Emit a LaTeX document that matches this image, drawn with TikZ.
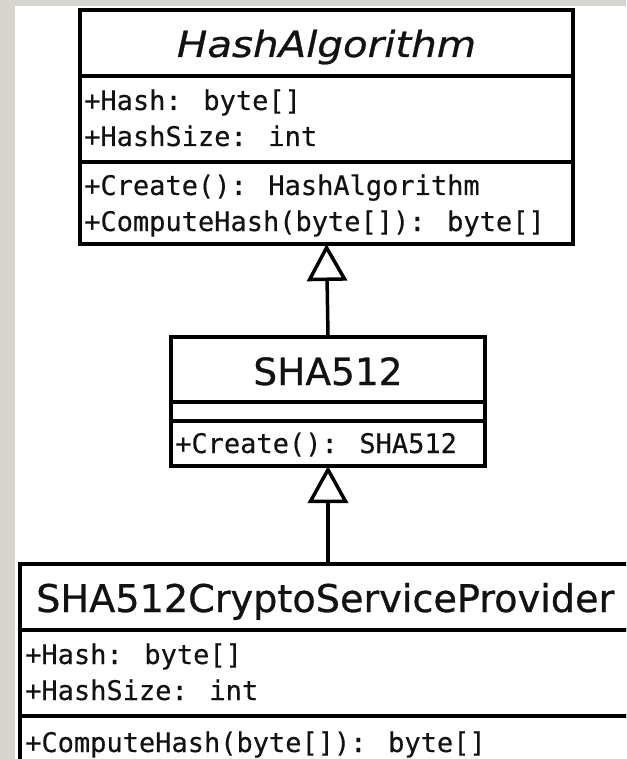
\documentclass[tikz,border=0pt]{standalone}
\usepackage{fontspec}
\setmainfont{DejaVu Sans}[FakeBold=0.7]
\newfontfamily\namefont{DejaVu Sans}[FakeBold=0.7]
\newfontfamily\memberfont{DejaVu Sans Mono}[FakeBold=0.35]
\newfontfamily\abstractfont{DejaVu Sans}[FakeStretch=1.12, FakeBold=0.7]
\usetikzlibrary{arrows.meta}

\definecolor{pagegray}{RGB}{213,212,207}
\definecolor{ink}{RGB}{18,18,18}

\tikzset{
  compartment/.style={draw=black, line width=4pt, fill=white, inner sep=0pt,
                      outer sep=0pt, anchor=north west},
  classname/.style={font=\namefont\fontsize{37.5}{40}\selectfont, text=ink, inner sep=0pt},
  abstractname/.style={font=\abstractfont\itshape\fontsize{36}{40}\selectfont,
                       text=ink, inner sep=0pt, anchor=base},
  member/.style={font=\memberfont\fontsize{27}{32}\selectfont, text=ink,
                 inner sep=0pt, anchor=base west},
  generalization/.style={line width=3.5pt,
    -{Triangle[open, length=37pt, width=40pt, line width=3.5pt]}},
}

\begin{document}
\begin{tikzpicture}[x=1pt, y=-1pt]
  \useasboundingbox (0,0) rectangle (626,759);
  \fill[pagegray] (0,0) rectangle (626,759);
  \fill[white] (15,6) rectangle (626,759);

  \begin{scope}
    \clip (0,0) rectangle (626,759);

    % abstract base class
    \node[compartment, minimum width=493pt, minimum height=66pt] (ha-head) at (80,10) {};
    \node[compartment, minimum width=493pt, minimum height=86pt] (ha-attrs) at (80,76) {};
    \node[compartment, minimum width=493pt, minimum height=82pt] (ha-methods) at (80,162) {};
    \node[abstractname] (ha-name) at (326.5,57) {HashAlgorithm};
    \node[member] (ha-a1) at (84,110) {+Hash: byte[]};
    \node[member] (ha-a2) at (84,146) {+HashSize: int};
    \node[member] (ha-m1) at (84,195) {+Create(): HashAlgorithm};
    \node[member] (ha-m2) at (84,231) {+ComputeHash(byte[]): byte[]};

    % intermediate abstract class
    \node[compartment, minimum width=314pt, minimum height=65pt] (sha-head) at (171,337) {};
    \node[compartment, minimum width=314pt, minimum height=19pt] (sha-attrs) at (171,402) {};
    \node[compartment, minimum width=314pt, minimum height=45pt] (sha-methods) at (171,421) {};
    \node[classname, anchor=base] (sha-name) at (328,385) {SHA512};
    \node[member] (sha-m1) at (175,453) {+Create(): SHA512};

    % concrete provider
    \node[compartment, minimum width=640pt, minimum height=66pt] (csp-head) at (20,564) {};
    \node[compartment, minimum width=640pt, minimum height=86pt] (csp-attrs) at (20,630) {};
    \node[compartment, minimum width=640pt, minimum height=84pt] (csp-methods) at (20,716) {};
    \node[classname, anchor=base west, font=\namefont\fontsize{38.2}{40}\selectfont]
      (csp-name) at (36,612) {SHA512CryptoServiceProvider};
    \node[member] (csp-a1) at (25,664) {+Hash: byte[]};
    \node[member] (csp-a2) at (25,700) {+HashSize: int};
    \node[member] (csp-m1) at (25,752) {+ComputeHash(byte[]): byte[]};
    \coordinate (csp-top) at (sha-methods.south |- csp-head.north);

    % inheritance
    \draw[generalization] (sha-head.north) -- (ha-methods.south);
    \draw[generalization] (csp-top) -- (sha-methods.south);
  \end{scope}
\end{tikzpicture}
\end{document}
